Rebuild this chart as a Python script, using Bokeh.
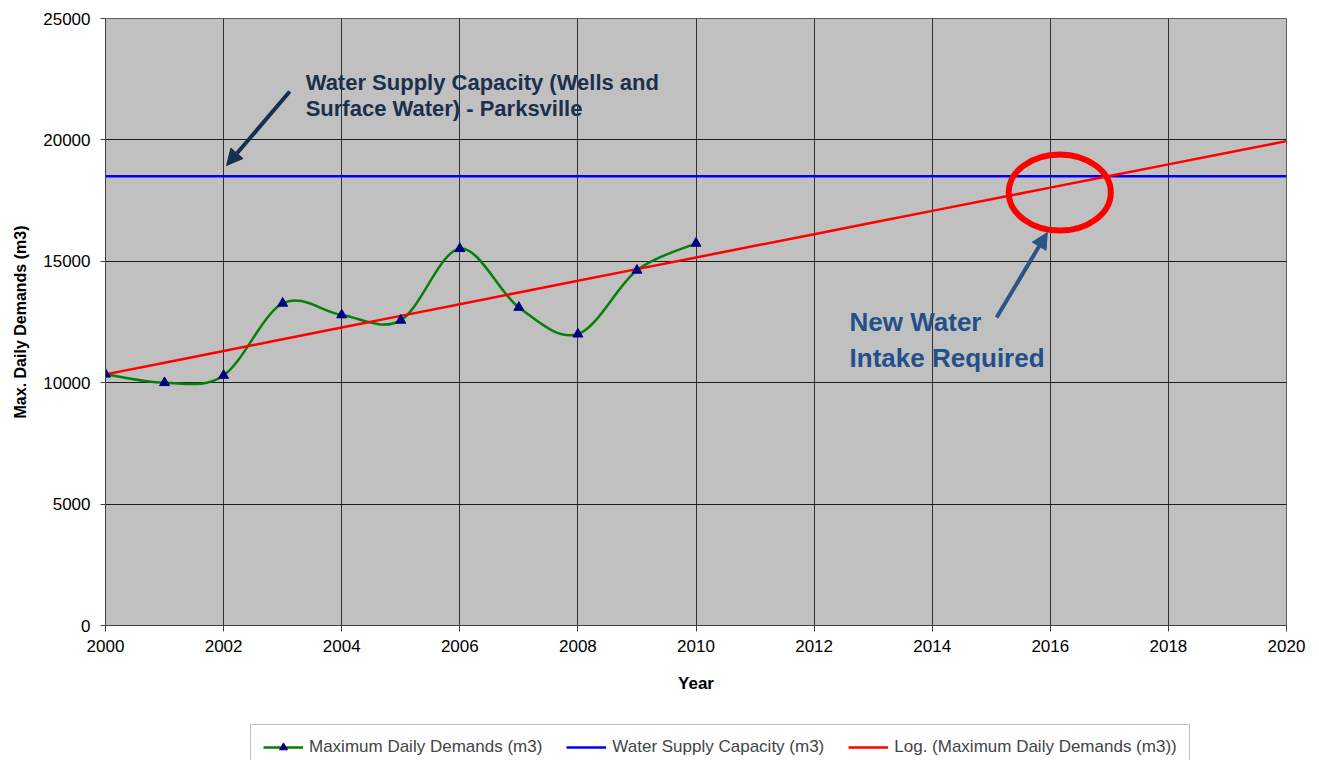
import numpy as np
from bokeh.plotting import figure
from bokeh.layouts import column
from bokeh.models import (Range1d, SingleIntervalTicker, Legend, LegendItem,
                          Arrow, NormalHead, Label, ColumnDataSource)
from bokeh.embed import file_html
from bokeh.resources import INLINE

# ---------------- data ----------------
years = [2000, 2001, 2002, 2003, 2004, 2005, 2006, 2007, 2008, 2009, 2010]
demands = [10350, 10000, 10300, 13270, 12790, 12570, 15520, 13100, 12000, 14630, 15740]
capacity_value = 18500
axis_years = [2000, 2020]
trend_years = list(range(2000, 2021))
x_ticks_interval = 2
y_ticks_interval = 5000
legend_labels = ["Maximum Daily Demands (m3)", "Water Supply Capacity (m3)",
                 "Log. (Maximum Daily Demands (m3))"]

# annotation placement (data units)
note1_lines = ["Water Supply Capacity (Wells and", "Surface Water) - Parksville"]
note1_x, note1_y = [2003.39, 2003.39], [22376, 21306]
note2_lines = ["New Water", "Intake Required"]
note2_x, note2_y = [2012.60, 2012.60], [12492, 10997]
arrow1 = dict(x_start=2003.12, y_start=21993, x_end=2002.05, y_end=18946)
arrow2 = dict(x_start=2015.09, y_start=12685, x_end=2015.95, y_end=16186)
ring = dict(x=[2016.16], y=[17834], width=1.73, height=3130)

FONT = "Liberation Sans"
GREEN = "#078007"
BLUE = "#0000ff"
RED = "#ff0000"
NAVY = "#000080"

p = figure(width=1319, height=715, x_range=Range1d(2000, 2020), y_range=Range1d(0, 25000),
           output_backend="svg", toolbar_location=None,
           min_border_left=105, min_border_right=33, min_border_top=18, min_border_bottom=90)
p.title.visible = False
p.background_fill_color = "#c0c0c0"
p.border_fill_color = "white"
p.outline_line_color = "#606060"
p.outline_line_width = 1

# axes
p.xaxis.ticker = SingleIntervalTicker(interval=x_ticks_interval, num_minor_ticks=0)
p.yaxis.ticker = SingleIntervalTicker(interval=y_ticks_interval, num_minor_ticks=0)
for ax in (p.xaxis[0], p.yaxis[0]):
    ax.major_tick_in = 0
    ax.minor_tick_in = 0
    ax.minor_tick_out = 0
    ax.major_tick_line_color = "#404040"
    ax.axis_line_color = "#404040"
    ax.major_label_text_font = FONT
    ax.major_label_text_font_size = "17px"
    ax.major_label_text_color = "black"
    ax.axis_label_text_font = FONT
    ax.axis_label_text_font_style = "bold"
    ax.axis_label_text_color = "black"
p.xaxis.major_tick_out = 6
p.xaxis.major_label_standoff = 8
p.xaxis.axis_label = "Year"
p.xaxis.axis_label_text_font_size = "17px"
p.xaxis.axis_label_standoff = 19
p.yaxis.major_tick_out = 5
p.yaxis.major_label_standoff = 10
p.yaxis.axis_label = "Max. Daily Demands (m3)"
p.yaxis.axis_label_text_font_size = "16px"
p.yaxis.axis_label_standoff = 11

p.xgrid.grid_line_color = "black"
p.xgrid.grid_line_alpha = 0.75
p.ygrid.grid_line_color = "black"
p.ygrid.grid_line_alpha = 0.85

# smoothed demand curve (Catmull-Rom style Bezier through the data points)
pts = list(zip(years, demands))
n = len(pts)
x0s, y0s, x1s, y1s, cx0s, cy0s, cx1s, cy1s = ([] for _ in range(8))
for i in range(n - 1):
    p0 = pts[i - 1] if i > 0 else pts[i]
    p1 = pts[i]
    p2 = pts[i + 1]
    p3 = pts[i + 2] if i + 2 < n else pts[i + 1]
    x0s.append(p1[0]); y0s.append(p1[1])
    x1s.append(p2[0]); y1s.append(p2[1])
    cx0s.append(p1[0] + (p2[0] - p0[0]) / 6.0); cy0s.append(p1[1] + (p2[1] - p0[1]) / 6.0)
    cx1s.append(p2[0] - (p3[0] - p1[0]) / 6.0); cy1s.append(p2[1] - (p3[1] - p1[1]) / 6.0)
bez_src = ColumnDataSource(dict(x0=x0s, y0=y0s, x1=x1s, y1=y1s, cx0=cx0s, cy0=cy0s, cx1=cx1s, cy1=cy1s))

p.bezier(x0="x0", y0="y0", x1="x1", y1="y1", cx0="cx0", cy0="cy0", cx1="cx1", cy1="cy1",
         source=bez_src, line_color=GREEN, line_width=2.5)

# capacity line
p.line(axis_years, [capacity_value] * len(axis_years), line_color=BLUE, line_width=2.5)

# logarithmic trend line (least squares on ln(year), as the spreadsheet trendline)
a, b = np.polyfit(np.log(years), demands, 1)
trend_vals = [a * np.log(t) + b for t in trend_years]
p.line(trend_years, trend_vals, line_color=RED, line_width=2.5)

# markers
p.scatter(years, demands, marker="triangle", size=10, fill_color=NAVY, line_color=NAVY)

# ring
p.ellipse(x=ring["x"], y=ring["y"], width=ring["width"], height=ring["height"],
          fill_alpha=0, line_color=RED, line_width=6)

# arrows
C1 = "#17304f"
C2 = "#2b5585"
p.add_layout(Arrow(end=NormalHead(size=16, fill_color=C1, line_color=C1), line_color=C1, line_width=4, **arrow1))
p.add_layout(Arrow(end=NormalHead(size=16, fill_color=C2, line_color=C2), line_color=C2, line_width=4, **arrow2))

for t, x, y in zip(note1_lines, note1_x, note1_y):
    p.add_layout(Label(x=x, y=y, text=t, text_font=FONT, text_font_style="bold",
                       text_font_size="22px", text_color="#1c2f4d", text_baseline="alphabetic"))
for t, x, y in zip(note2_lines, note2_x, note2_y):
    p.add_layout(Label(x=x, y=y, text=t, text_font=FONT, text_font_style="bold",
                       text_font_size="26px", text_color="#23508a", text_baseline="alphabetic"))

# ---------------- legend strip (separate figure below the chart) ----------------
# its ranges keep the (same) series out of view, so only the legend entries show
lg = figure(width=1319, height=45, x_axis_type=None, y_axis_type=None,
            x_range=Range1d(0, 1), y_range=Range1d(0, 1),
            output_backend="svg", toolbar_location=None,
            min_border_left=0, min_border_right=0, min_border_top=0, min_border_bottom=0)
lg.title.visible = False
lg.outline_line_color = None
lg.xgrid.visible = False
lg.ygrid.visible = False
l1 = lg.line(years, demands, line_color=GREEN, line_width=2.5)
m1 = lg.scatter(years, demands, marker="triangle", size=10, fill_color=NAVY, line_color=NAVY)
l2 = lg.line(axis_years, [capacity_value] * len(axis_years), line_color=BLUE, line_width=2.5)
l3 = lg.line(trend_years, trend_vals, line_color=RED, line_width=2.5)

legend = Legend(items=[
    LegendItem(label=legend_labels[0], renderers=[l1, m1]),
    LegendItem(label=legend_labels[1], renderers=[l2]),
    LegendItem(label=legend_labels[2], renderers=[l3]),
], orientation="horizontal", location=(145, -10), margin=0, padding=12, spacing=24,
    glyph_width=40, glyph_height=20, label_standoff=6,
    label_text_font=FONT, label_text_font_size="17px",
    border_line_color="#808080", border_line_width=1.5,
    background_fill_color="white", background_fill_alpha=1)
lg.add_layout(legend)

open("out.html", "w").write(file_html(column(p, lg, spacing=0), INLINE))
